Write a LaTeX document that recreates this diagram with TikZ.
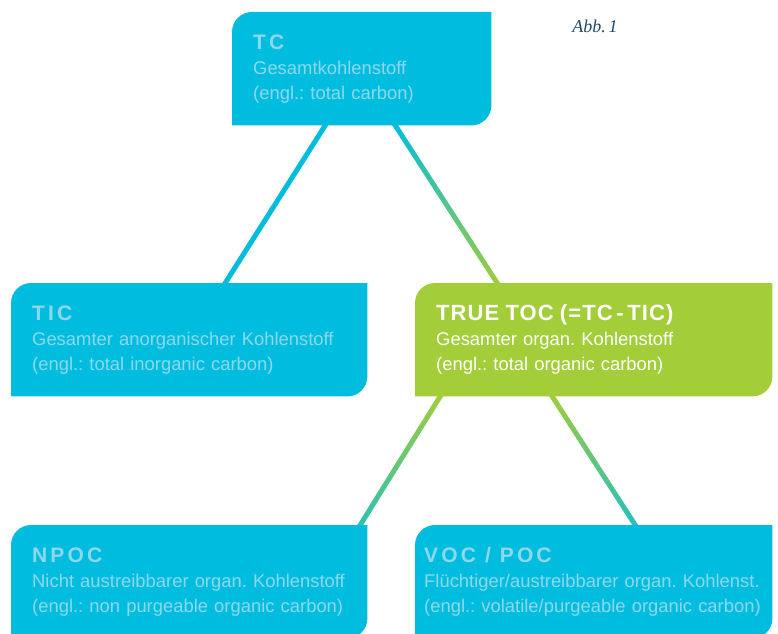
\documentclass[tikz,border=0pt]{standalone}
\usepackage{fontspec}
\setmainfont{Liberation Sans}
\newfontfamily\spacedtitle{Liberation Sans Bold}[LetterSpace=15]
\newfontfamily\plaintitle{Liberation Sans Bold}[LetterSpace=5]
\newfontfamily\captionserif{Liberation Serif Italic}
\usetikzlibrary{positioning, calc, backgrounds}
\definecolor{cCyan}{RGB}{0,189,224}
\definecolor{cGreen}{RGB}{163,205,57}
\definecolor{cPale}{RGB}{142,216,236}
\definecolor{cNavy}{RGB}{31,73,105}
\frenchspacing
\tikzset{
	cardbox/.style ={rectangle, minimum height=113pt, inner xsep=21pt, inner ysep=0pt, align=left, anchor=north west, text=cPale, font=\fontsize{18.4}{25}\selectfont},
	greencard/.style={cardbox, text=white},
	abbnote/.style ={text=cNavy, font=\captionserif\fontsize{18}{20}\selectfont},
}
% card title (letter spaced) and the leaf shaped fill behind a card
\newcommand{\cardtitle}[1]{{\fontsize{21}{25}\selectfont\spacedtitle #1}}
\newcommand{\leafcard}[2]{%
	\fill[#2] (#1.south west) -- ([yshift=-20pt]#1.north west) arc[start angle=180, end angle=90, radius=20pt]
		-- (#1.north east) -- ([yshift=20pt]#1.south east) arc[start angle=0, end angle=-90, radius=20pt] -- cycle;}
% thick link with a colour gradient from top to bottom
\newcommand{\gradlink}[4]{%
	\coordinate (ga) at ($(#1)!-4pt!(#2)$);
	\coordinate (gb) at ($(#2)!-4pt!(#1)$);
	\shade[top color=#3, bottom color=#4] ($(ga)!2.5pt!90:(gb)$) -- ($(ga)!2.5pt!-90:(gb)$)
		-- ($(gb)!2.5pt!90:(ga)$) -- ($(gb)!2.5pt!-90:(ga)$) -- cycle;}

\begin{document}
\begin{tikzpicture}[x=1pt, y=1pt]
	\useasboundingbox (0,0) rectangle (778,633);
	\node[cardbox, text width=217pt] (tc) at (232,621) {\cardtitle{TC}\\Gesamtkohlenstoff\\(engl.: total carbon)};
	\node[cardbox, text width=314pt] (tic) at (11,350) {\cardtitle{TIC}\\Gesamter anorganischer Kohlenstoff\\(engl.: total inorganic carbon)};
	\node[greencard, text width=315pt] (toc) at (415,350) {{\fontsize{22}{25}\selectfont\plaintitle TRUE TOC (=TC\,-\,TIC)}\\Gesamter organ. Kohlenstoff\\(engl.: total organic carbon)};
	\node[cardbox, text width=314pt] (npoc) at (11,108) {\cardtitle{NPOC}\\Nicht austreibbarer organ. Kohlenstoff\\(engl.: non purgeable organic carbon)};
	\node[cardbox, inner xsep=9pt, text width=339pt] (voc) at (415,108) {\cardtitle{VOC\hspace{9pt}/\hspace{9pt}POC}\\Flüchtiger/austreibbarer organ. Kohlenst.\\(engl.: volatile/purgeable organic carbon)};
	\node[abbnote] (abb) at (595,607) {Abb.\,1};
	\begin{pgfonlayer}{background}
		\coordinate (tc-l) at ([xshift=-36.5pt]tc.south);
		\coordinate (tc-r) at ([xshift=33.5pt]tc.south);
		\coordinate (tic-t) at ([xshift=36pt]tic.north);
		\coordinate (toc-t) at ([xshift=-96.5pt]toc.north);
		\coordinate (toc-l) at ([xshift=-153.5pt]toc.south);
		\coordinate (toc-r) at ([xshift=-41.5pt]toc.south);
		\coordinate (npoc-t) at ([xshift=171pt]npoc.north);
		\coordinate (voc-t) at ([xshift=41.5pt]voc.north);
		\gradlink{tc-l}{tic-t}{cCyan}{cCyan}
		\gradlink{tc-r}{toc-t}{cCyan}{cGreen}
		\gradlink{toc-l}{npoc-t}{cGreen}{cCyan!75!cGreen}
		\gradlink{toc-r}{voc-t}{cGreen}{cCyan!80!cGreen}
		\leafcard{tc}{cCyan}
		\leafcard{tic}{cCyan}
		\leafcard{toc}{cGreen}
		\leafcard{npoc}{cCyan}
		\leafcard{voc}{cCyan}
	\end{pgfonlayer}
\end{tikzpicture}
\end{document}
